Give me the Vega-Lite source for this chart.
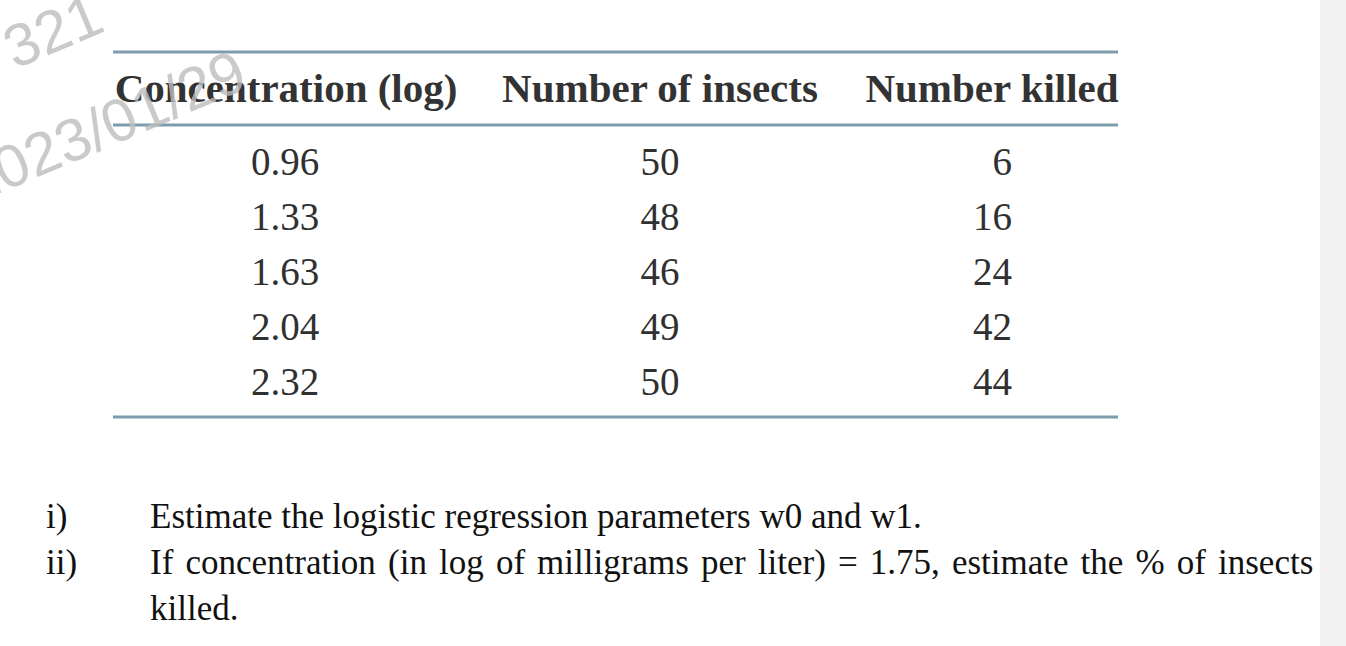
{
  "$schema": "https://vega.github.io/schema/vega-lite/v6.json",
  "width": 1346,
  "height": 646,
  "padding": 0,
  "autosize": {"type": "none"},
  "background": "#ffffff",
  "config": {"view": {"stroke": null}},
  "datasets": {
    "table": [
      {"row": 1, "conc": 0.96, "insects": 50, "killed": 6},
      {"row": 2, "conc": 1.33, "insects": 48, "killed": 16},
      {"row": 3, "conc": 1.63, "insects": 46, "killed": 24},
      {"row": 4, "conc": 2.04, "insects": 49, "killed": 42},
      {"row": 5, "conc": 2.32, "insects": 50, "killed": 44}
    ]
  },
  "data": {"name": "table"},
  "layer": [
    {
      "data": {"values": [{"part": "margin"}]},
      "mark": {"type": "rect", "color": "#f2f2f2"},
      "encoding": {
        "x": {"datum": 1320, "type": "quantitative", "scale": {"domain": [0, 1346], "nice": false, "zero": false}, "axis": null},
        "x2": {"datum": 1346},
        "y": {"datum": -2.1818, "type": "quantitative", "scale": {"domain": [-2.1818, 9.5636], "nice": false, "zero": false, "reverse": true}, "axis": null},
        "y2": {"datum": 9.5636}
      }
    },
    {
      "data": {"values": [{"part": "rule"}]},
      "mark": {"type": "rule", "color": "#7d9cad", "strokeWidth": 3},
      "encoding": {
        "x": {"datum": 113, "type": "quantitative", "scale": {"domain": [0, 1346], "nice": false, "zero": false}, "axis": null},
        "x2": {"datum": 1118},
        "y": {"datum": -1.236, "type": "quantitative", "scale": {"domain": [-2.1818, 9.5636], "nice": false, "zero": false, "reverse": true}, "axis": null}
      }
    },
    {
      "data": {"values": [{"part": "rule"}]},
      "mark": {"type": "rule", "color": "#7d9cad", "strokeWidth": 3},
      "encoding": {
        "x": {"datum": 113, "type": "quantitative", "scale": {"domain": [0, 1346], "nice": false, "zero": false}, "axis": null},
        "x2": {"datum": 1118},
        "y": {"datum": 0.091, "type": "quantitative", "scale": {"domain": [-2.1818, 9.5636], "nice": false, "zero": false, "reverse": true}, "axis": null}
      }
    },
    {
      "data": {"values": [{"part": "rule"}]},
      "mark": {"type": "rule", "color": "#7d9cad", "strokeWidth": 3},
      "encoding": {
        "x": {"datum": 113, "type": "quantitative", "scale": {"domain": [0, 1346], "nice": false, "zero": false}, "axis": null},
        "x2": {"datum": 1118},
        "y": {"datum": 5.4, "type": "quantitative", "scale": {"domain": [-2.1818, 9.5636], "nice": false, "zero": false, "reverse": true}, "axis": null}
      }
    },
    {
      "data": {"values": [{"header": "Concentration (log)"}]},
      "mark": {"type": "text", "font": "Liberation Serif", "fontWeight": "bold", "fontSize": 41, "color": "#333333", "align": "center", "baseline": "alphabetic"},
      "encoding": {
        "x": {"datum": 286, "type": "quantitative", "scale": {"domain": [0, 1346], "nice": false, "zero": false}, "axis": null},
        "y": {"datum": -0.327, "type": "quantitative", "scale": {"domain": [-2.1818, 9.5636], "nice": false, "zero": false, "reverse": true}, "axis": null},
        "text": {"field": "header"}
      }
    },
    {
      "data": {"values": [{"header": "Number of insects"}]},
      "mark": {"type": "text", "font": "Liberation Serif", "fontWeight": "bold", "fontSize": 41, "color": "#333333", "align": "center", "baseline": "alphabetic"},
      "encoding": {
        "x": {"datum": 660, "type": "quantitative", "scale": {"domain": [0, 1346], "nice": false, "zero": false}, "axis": null},
        "y": {"datum": -0.327, "type": "quantitative", "scale": {"domain": [-2.1818, 9.5636], "nice": false, "zero": false, "reverse": true}, "axis": null},
        "text": {"field": "header"}
      }
    },
    {
      "data": {"values": [{"header": "Number killed"}]},
      "mark": {"type": "text", "font": "Liberation Serif", "fontWeight": "bold", "fontSize": 41, "color": "#333333", "align": "center", "baseline": "alphabetic"},
      "encoding": {
        "x": {"datum": 992, "type": "quantitative", "scale": {"domain": [0, 1346], "nice": false, "zero": false}, "axis": null},
        "y": {"datum": -0.327, "type": "quantitative", "scale": {"domain": [-2.1818, 9.5636], "nice": false, "zero": false, "reverse": true}, "axis": null},
        "text": {"field": "header"}
      }
    },
    {
      "mark": {"type": "text", "font": "Liberation Serif", "fontSize": 39, "color": "#303030", "align": "center", "baseline": "alphabetic"},
      "encoding": {
        "x": {"datum": 285, "type": "quantitative", "scale": {"domain": [0, 1346], "nice": false, "zero": false}, "axis": null},
        "y": {"field": "row", "type": "quantitative", "scale": {"domain": [-2.1818, 9.5636], "nice": false, "zero": false, "reverse": true}, "axis": null},
        "text": {"field": "conc", "type": "quantitative", "format": ".2f"}
      }
    },
    {
      "mark": {"type": "text", "font": "Liberation Serif", "fontSize": 39, "color": "#303030", "align": "center", "baseline": "alphabetic"},
      "encoding": {
        "x": {"datum": 660, "type": "quantitative", "scale": {"domain": [0, 1346], "nice": false, "zero": false}, "axis": null},
        "y": {"field": "row", "type": "quantitative", "scale": {"domain": [-2.1818, 9.5636], "nice": false, "zero": false, "reverse": true}, "axis": null},
        "text": {"field": "insects", "type": "quantitative", "format": "d"}
      }
    },
    {
      "mark": {"type": "text", "font": "Liberation Serif", "fontSize": 39, "color": "#303030", "align": "right", "baseline": "alphabetic"},
      "encoding": {
        "x": {"datum": 1012, "type": "quantitative", "scale": {"domain": [0, 1346], "nice": false, "zero": false}, "axis": null},
        "y": {"field": "row", "type": "quantitative", "scale": {"domain": [-2.1818, 9.5636], "nice": false, "zero": false, "reverse": true}, "axis": null},
        "text": {"field": "killed", "type": "quantitative", "format": "d"}
      }
    },
    {
      "data": {"values": [{"t": "i)"}]},
      "mark": {"type": "text", "font": "Liberation Serif", "fontSize": 35, "color": "#111111", "align": "left", "baseline": "alphabetic"},
      "encoding": {
        "x": {"datum": 46, "type": "quantitative", "scale": {"domain": [0, 1346], "nice": false, "zero": false}, "axis": null},
        "y": {"datum": 7.418, "type": "quantitative", "scale": {"domain": [-2.1818, 9.5636], "nice": false, "zero": false, "reverse": true}, "axis": null},
        "text": {"field": "t"}
      }
    },
    {
      "data": {"values": [{"t": "ii)"}]},
      "mark": {"type": "text", "font": "Liberation Serif", "fontSize": 35, "color": "#111111", "align": "left", "baseline": "alphabetic"},
      "encoding": {
        "x": {"datum": 46, "type": "quantitative", "scale": {"domain": [0, 1346], "nice": false, "zero": false}, "axis": null},
        "y": {"datum": 8.255, "type": "quantitative", "scale": {"domain": [-2.1818, 9.5636], "nice": false, "zero": false, "reverse": true}, "axis": null},
        "text": {"field": "t"}
      }
    },
    {
      "data": {"values": [{"t": "Estimate the logistic regression parameters w0 and w1."}]},
      "mark": {"type": "text", "font": "Liberation Serif", "fontSize": 35, "color": "#111111", "align": "left", "baseline": "alphabetic"},
      "encoding": {
        "x": {"datum": 150, "type": "quantitative", "scale": {"domain": [0, 1346], "nice": false, "zero": false}, "axis": null},
        "y": {"datum": 7.418, "type": "quantitative", "scale": {"domain": [-2.1818, 9.5636], "nice": false, "zero": false, "reverse": true}, "axis": null},
        "text": {"field": "t"}
      }
    },
    {"data": {"values": [{"t": "If"}]}, "mark": {"type": "text", "font": "Liberation Serif", "fontSize": 35, "color": "#111111", "align": "left", "baseline": "alphabetic"}, "encoding": {"x": {"datum": 150, "type": "quantitative", "scale": {"domain": [0, 1346], "nice": false, "zero": false}, "axis": null}, "y": {"datum": 8.255, "type": "quantitative", "scale": {"domain": [-2.1818, 9.5636], "nice": false, "zero": false, "reverse": true}, "axis": null}, "text": {"field": "t"}}},
    {"data": {"values": [{"t": "concentration"}]}, "mark": {"type": "text", "font": "Liberation Serif", "fontSize": 35, "color": "#111111", "align": "left", "baseline": "alphabetic"}, "encoding": {"x": {"datum": 185.4, "type": "quantitative", "scale": {"domain": [0, 1346], "nice": false, "zero": false}, "axis": null}, "y": {"datum": 8.255, "type": "quantitative", "scale": {"domain": [-2.1818, 9.5636], "nice": false, "zero": false, "reverse": true}, "axis": null}, "text": {"field": "t"}}},
    {"data": {"values": [{"t": "(in"}]}, "mark": {"type": "text", "font": "Liberation Serif", "fontSize": 35, "color": "#111111", "align": "left", "baseline": "alphabetic"}, "encoding": {"x": {"datum": 388, "type": "quantitative", "scale": {"domain": [0, 1346], "nice": false, "zero": false}, "axis": null}, "y": {"datum": 8.255, "type": "quantitative", "scale": {"domain": [-2.1818, 9.5636], "nice": false, "zero": false, "reverse": true}, "axis": null}, "text": {"field": "t"}}},
    {"data": {"values": [{"t": "log"}]}, "mark": {"type": "text", "font": "Liberation Serif", "fontSize": 35, "color": "#111111", "align": "left", "baseline": "alphabetic"}, "encoding": {"x": {"datum": 439, "type": "quantitative", "scale": {"domain": [0, 1346], "nice": false, "zero": false}, "axis": null}, "y": {"datum": 8.255, "type": "quantitative", "scale": {"domain": [-2.1818, 9.5636], "nice": false, "zero": false, "reverse": true}, "axis": null}, "text": {"field": "t"}}},
    {"data": {"values": [{"t": "of"}]}, "mark": {"type": "text", "font": "Liberation Serif", "fontSize": 35, "color": "#111111", "align": "left", "baseline": "alphabetic"}, "encoding": {"x": {"datum": 495.9, "type": "quantitative", "scale": {"domain": [0, 1346], "nice": false, "zero": false}, "axis": null}, "y": {"datum": 8.255, "type": "quantitative", "scale": {"domain": [-2.1818, 9.5636], "nice": false, "zero": false, "reverse": true}, "axis": null}, "text": {"field": "t"}}},
    {"data": {"values": [{"t": "milligrams"}]}, "mark": {"type": "text", "font": "Liberation Serif", "fontSize": 35, "color": "#111111", "align": "left", "baseline": "alphabetic"}, "encoding": {"x": {"datum": 537.1, "type": "quantitative", "scale": {"domain": [0, 1346], "nice": false, "zero": false}, "axis": null}, "y": {"datum": 8.255, "type": "quantitative", "scale": {"domain": [-2.1818, 9.5636], "nice": false, "zero": false, "reverse": true}, "axis": null}, "text": {"field": "t"}}},
    {"data": {"values": [{"t": "per"}]}, "mark": {"type": "text", "font": "Liberation Serif", "fontSize": 35, "color": "#111111", "align": "left", "baseline": "alphabetic"}, "encoding": {"x": {"datum": 700.9, "type": "quantitative", "scale": {"domain": [0, 1346], "nice": false, "zero": false}, "axis": null}, "y": {"datum": 8.255, "type": "quantitative", "scale": {"domain": [-2.1818, 9.5636], "nice": false, "zero": false, "reverse": true}, "axis": null}, "text": {"field": "t"}}},
    {"data": {"values": [{"t": "liter)"}]}, "mark": {"type": "text", "font": "Liberation Serif", "fontSize": 35, "color": "#111111", "align": "left", "baseline": "alphabetic"}, "encoding": {"x": {"datum": 757.8, "type": "quantitative", "scale": {"domain": [0, 1346], "nice": false, "zero": false}, "axis": null}, "y": {"datum": 8.255, "type": "quantitative", "scale": {"domain": [-2.1818, 9.5636], "nice": false, "zero": false, "reverse": true}, "axis": null}, "text": {"field": "t"}}},
    {"data": {"values": [{"t": "="}]}, "mark": {"type": "text", "font": "Liberation Serif", "fontSize": 35, "color": "#111111", "align": "left", "baseline": "alphabetic"}, "encoding": {"x": {"datum": 837.9, "type": "quantitative", "scale": {"domain": [0, 1346], "nice": false, "zero": false}, "axis": null}, "y": {"datum": 8.255, "type": "quantitative", "scale": {"domain": [-2.1818, 9.5636], "nice": false, "zero": false, "reverse": true}, "axis": null}, "text": {"field": "t"}}},
    {"data": {"values": [{"t": "1.75,"}]}, "mark": {"type": "text", "font": "Liberation Serif", "fontSize": 35, "color": "#111111", "align": "left", "baseline": "alphabetic"}, "encoding": {"x": {"datum": 869.8, "type": "quantitative", "scale": {"domain": [0, 1346], "nice": false, "zero": false}, "axis": null}, "y": {"datum": 8.255, "type": "quantitative", "scale": {"domain": [-2.1818, 9.5636], "nice": false, "zero": false, "reverse": true}, "axis": null}, "text": {"field": "t"}}},
    {"data": {"values": [{"t": "estimate"}]}, "mark": {"type": "text", "font": "Liberation Serif", "fontSize": 35, "color": "#111111", "align": "left", "baseline": "alphabetic"}, "encoding": {"x": {"datum": 951.9, "type": "quantitative", "scale": {"domain": [0, 1346], "nice": false, "zero": false}, "axis": null}, "y": {"datum": 8.255, "type": "quantitative", "scale": {"domain": [-2.1818, 9.5636], "nice": false, "zero": false, "reverse": true}, "axis": null}, "text": {"field": "t"}}},
    {"data": {"values": [{"t": "the"}]}, "mark": {"type": "text", "font": "Liberation Serif", "fontSize": 35, "color": "#111111", "align": "left", "baseline": "alphabetic"}, "encoding": {"x": {"datum": 1080.6, "type": "quantitative", "scale": {"domain": [0, 1346], "nice": false, "zero": false}, "axis": null}, "y": {"datum": 8.255, "type": "quantitative", "scale": {"domain": [-2.1818, 9.5636], "nice": false, "zero": false, "reverse": true}, "axis": null}, "text": {"field": "t"}}},
    {"data": {"values": [{"t": "%"}]}, "mark": {"type": "text", "font": "Liberation Serif", "fontSize": 35, "color": "#111111", "align": "left", "baseline": "alphabetic"}, "encoding": {"x": {"datum": 1135.5, "type": "quantitative", "scale": {"domain": [0, 1346], "nice": false, "zero": false}, "axis": null}, "y": {"datum": 8.255, "type": "quantitative", "scale": {"domain": [-2.1818, 9.5636], "nice": false, "zero": false, "reverse": true}, "axis": null}, "text": {"field": "t"}}},
    {"data": {"values": [{"t": "of"}]}, "mark": {"type": "text", "font": "Liberation Serif", "fontSize": 35, "color": "#111111", "align": "left", "baseline": "alphabetic"}, "encoding": {"x": {"datum": 1176.8, "type": "quantitative", "scale": {"domain": [0, 1346], "nice": false, "zero": false}, "axis": null}, "y": {"datum": 8.255, "type": "quantitative", "scale": {"domain": [-2.1818, 9.5636], "nice": false, "zero": false, "reverse": true}, "axis": null}, "text": {"field": "t"}}},
    {"data": {"values": [{"t": "insects"}]}, "mark": {"type": "text", "font": "Liberation Serif", "fontSize": 35, "color": "#111111", "align": "left", "baseline": "alphabetic"}, "encoding": {"x": {"datum": 1218, "type": "quantitative", "scale": {"domain": [0, 1346], "nice": false, "zero": false}, "axis": null}, "y": {"datum": 8.255, "type": "quantitative", "scale": {"domain": [-2.1818, 9.5636], "nice": false, "zero": false, "reverse": true}, "axis": null}, "text": {"field": "t"}}},
    {
      "data": {"values": [{"t": "killed."}]},
      "mark": {"type": "text", "font": "Liberation Serif", "fontSize": 35, "color": "#111111", "align": "left", "baseline": "alphabetic"},
      "encoding": {
        "x": {"datum": 150, "type": "quantitative", "scale": {"domain": [0, 1346], "nice": false, "zero": false}, "axis": null},
        "y": {"datum": 9.091, "type": "quantitative", "scale": {"domain": [-2.1818, 9.5636], "nice": false, "zero": false, "reverse": true}, "axis": null},
        "text": {"field": "t"}
      }
    },
    {
      "data": {"values": [{"t": "321"}]},
      "mark": {"type": "text", "font": "Liberation Sans", "fontSize": 60, "color": "#bdbdbd", "opacity": 0.8, "angle": -23, "align": "right", "baseline": "alphabetic"},
      "encoding": {
        "x": {"datum": 107, "type": "quantitative", "scale": {"domain": [0, 1346], "nice": false, "zero": false}, "axis": null},
        "y": {"datum": -1.63, "type": "quantitative", "scale": {"domain": [-2.1818, 9.5636], "nice": false, "zero": false, "reverse": true}, "axis": null},
        "text": {"field": "t"}
      }
    },
    {
      "data": {"values": [{"t": "2023/01/29"}]},
      "mark": {"type": "text", "font": "Liberation Sans", "fontSize": 60, "color": "#bdbdbd", "opacity": 0.8, "angle": -23, "align": "right", "baseline": "alphabetic"},
      "encoding": {
        "x": {"datum": 250, "type": "quantitative", "scale": {"domain": [0, 1346], "nice": false, "zero": false}, "axis": null},
        "y": {"datum": -0.6, "type": "quantitative", "scale": {"domain": [-2.1818, 9.5636], "nice": false, "zero": false, "reverse": true}, "axis": null},
        "text": {"field": "t"}
      }
    }
  ]
}
